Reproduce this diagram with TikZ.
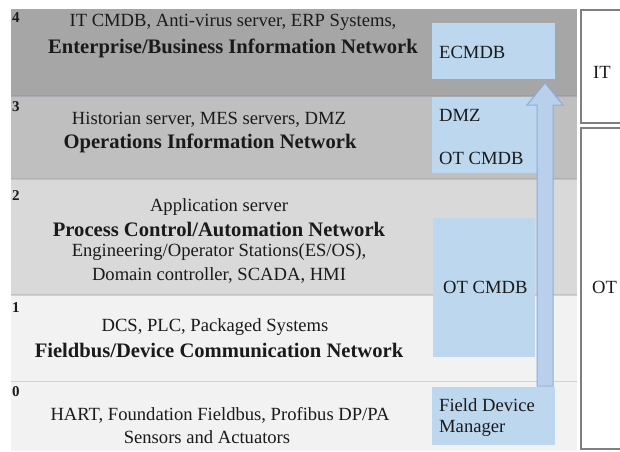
\documentclass[tikz,border=0pt]{standalone}
\usepackage{fontspec}
\setmainfont{Liberation Serif}
\usetikzlibrary{calc}
\begin{document}
\begin{tikzpicture}[x=1pt,y=-1pt,
  band/.style={fill=#1,draw=none},
  blue/.style={fill=boxblue,draw=none},
  reg/.style={font=\fontsize{18.6}{22}\selectfont,text=txt,inner sep=0pt},
  bld/.style={font=\fontsize{20.6}{24}\selectfont\bfseries,text=txt,inner sep=0pt},
  num/.style={font=\fontsize{15}{17}\selectfont\bfseries,text=txt,inner sep=0pt,anchor=west},
  side/.style={draw=sidegray,line width=1.2pt,fill=white},
  boxtxt/.style={font=\fontsize{18.6}{22}\selectfont,text=txt,inner sep=0pt,anchor=west},
  arrowstyle/.style={fill=arrowblue,draw=arrowline,line width=1pt,line join=miter}]
\definecolor{boxblue}{HTML}{BDD7EE}
\definecolor{arrowblue}{HTML}{B8D0EC}
\definecolor{arrowline}{HTML}{8EAADB}
\definecolor{sidegray}{HTML}{7F7F7F}
\definecolor{txt}{HTML}{1A1A1A}
\useasboundingbox (0,0) rectangle (620,451);
\clip (0,0) rectangle (620,451);
\fill[white] (0,0) rectangle (620,451);
% bands
\path[band=gray!70] (11,9) rectangle (577,96);
\path[band={black!25}] (11,96) rectangle (577,179);
\path[band={black!15}] (11,179) rectangle (577,295);
\path[band={black!5}] (11,295) rectangle (577,381);
\path[band={black!5}] (11,381) rectangle (577,451);
\draw[black!18,line width=1pt] (11,381) -- (577,381);
\draw[white!80!blue!30!gray,line width=1.5pt,opacity=0.5] (11,96) -- (577,96);
\draw[white!80!blue!30!gray,line width=1.5pt,opacity=0.35] (11,179) -- (577,179);
\draw[white!80!blue!30!gray,line width=1.5pt,opacity=0.35] (11,295) -- (577,295);
% band numbers
\node[num] (n4) at (12,18) {4};
\node[num] (n3) at (12,107) {3};
\node[num] (n2) at (12,196) {2};
\node[num] (n1) at (12,308) {1};
\node[num] (n0) at (12,392) {0};
% band texts
\node[reg] (t4a) at (233,22) {IT CMDB, Anti-virus server, ERP Systems,};
\node[bld] (t4b) at (233,48) {Enterprise/Business Information Network};
\node[reg] (t3a) at (209,120) {Historian server, MES servers, DMZ};
\node[bld] (t3b) at (210,143) {Operations Information Network};
\node[reg] (t2a) at (219,207) {Application server};
\node[bld] (t2b) at (219,229) {Process Control/Automation Network};
\node[reg] (t2c) at (219,252) {Engineering/Operator Stations(ES/OS),};
\node[reg] (t2d) at (219,275) {Domain controller, SCADA, HMI};
\node[reg] (t1a) at (215,327) {DCS, PLC, Packaged Systems};
\node[bld] (t1b) at (219,350) {Fieldbus/Device Communication Network};
\node[reg] (t0a) at (220,415) {HART, Foundation Fieldbus, Profibus DP/PA};
\node[reg] (t0b) at (207,437) {Sensors and Actuators};
% blue boxes
\path[blue] (432,23) rectangle (555,79);
\path[blue] (432,97) rectangle (537,173);
\path[blue] (433,218) rectangle (535,357);
\path[blue] (432,387) rectangle (555,445);
\node[boxtxt] (ecmdb) at (439,52) {ECMDB};
\node[boxtxt] (dmz) at (439,115) {DMZ};
\node[boxtxt] (otc3) at (439,158) {OT CMDB};
\node[boxtxt] (otc) at (443,287) {OT CMDB};
\node[boxtxt] (fdm1) at (439,405) {Field Device};
\node[boxtxt] (fdm2) at (439,428) {Manager};
% arrow
\coordinate (atail) at (545,386);
\coordinate (atip) at (545,83);
\draw[arrowstyle] ($(atail)+(-8,0)$) -- ($(atip)+(-8,22)$) -- ($(atip)+(-18,22)$) -- (atip) -- ($(atip)+(18,22)$) -- ($(atip)+(8,22)$) -- ($(atail)+(8,0)$) -- cycle;
% side boxes
\draw[side] (581,10) rectangle (630,123);
\draw[side] (581,128) rectangle (630,449);
\node[boxtxt] (it) at (593,72) {IT};
\node[boxtxt] (ot) at (592,287) {OT};
\end{tikzpicture}
\end{document}
